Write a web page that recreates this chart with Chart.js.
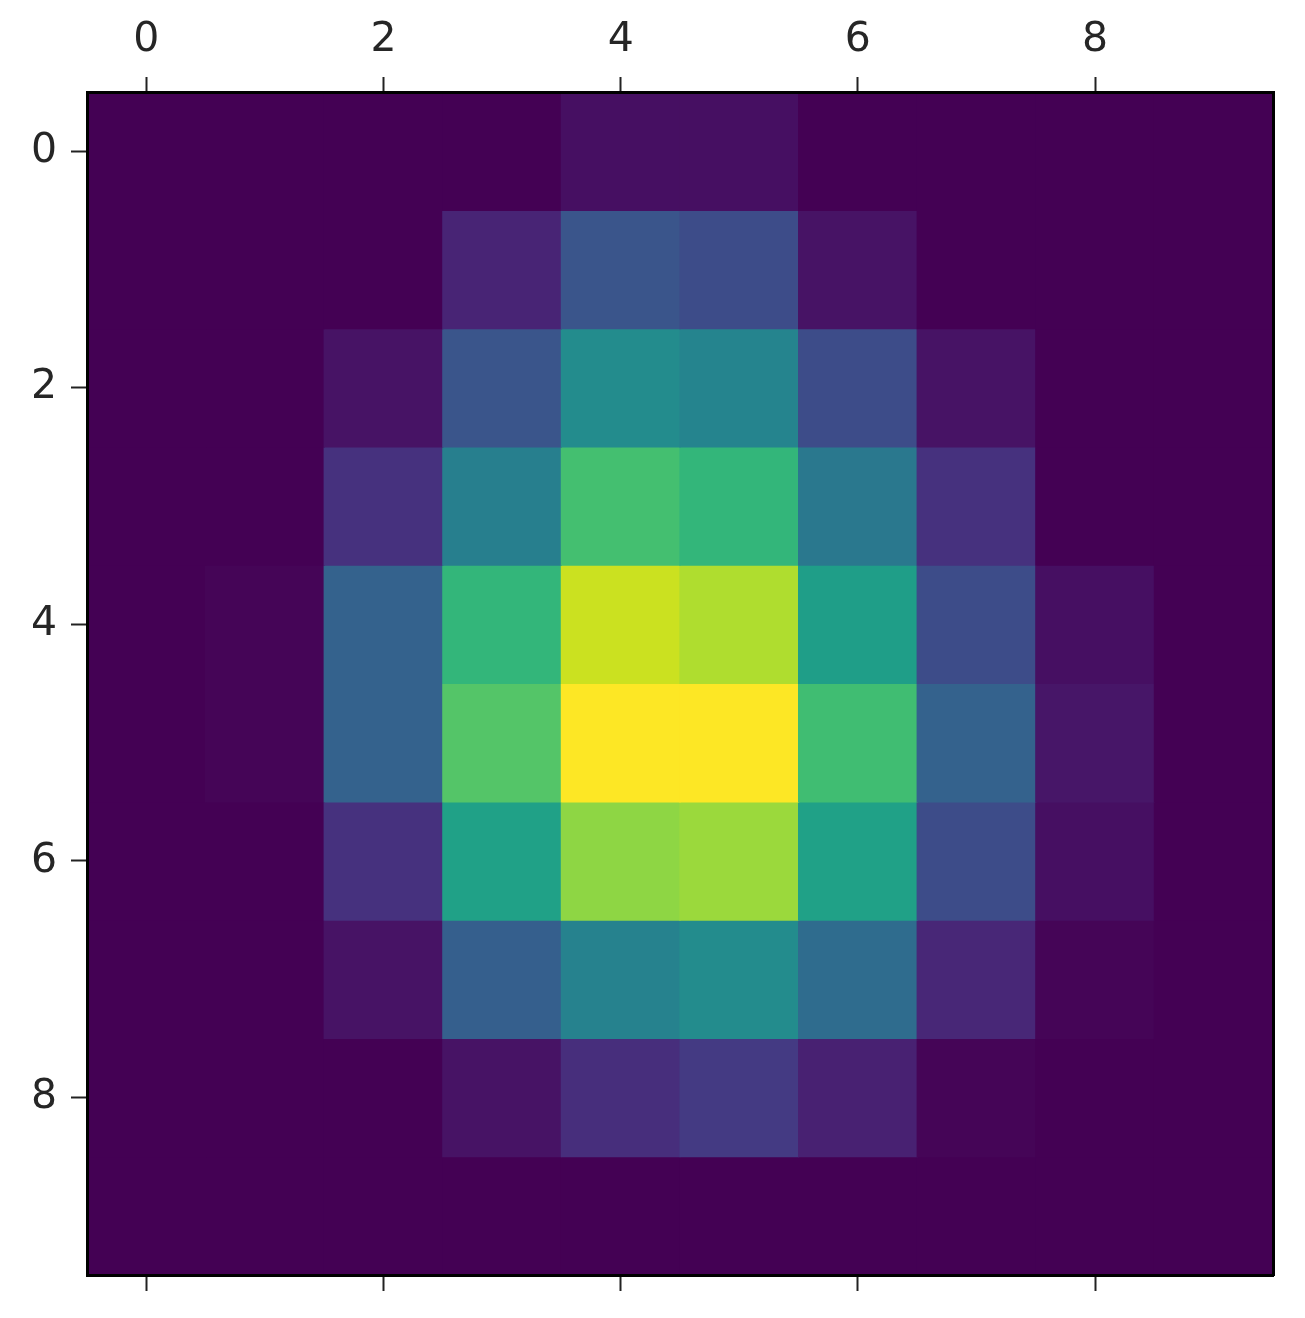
<!DOCTYPE html>
<html>
<head>
<meta charset="utf-8">
<script src="https://cdn.jsdelivr.net/npm/chart.js@4"></script>
<style>
  html, body { margin: 0; padding: 0; background: #fff; }
  #wrap { width: 1305px; height: 1318px; position: relative; }
</style>
</head>
<body>
<div id="wrap"><canvas id="heat"></canvas></div>
<script>
// grid positions and tick labels
const cols = [0, 1, 2, 3, 4, 5, 6, 7, 8, 9];
const rows = [0, 1, 2, 3, 4, 5, 6, 7, 8, 9];
const xTicks = [0, 2, 4, 6, 8];
const yTicks = [0, 2, 4, 6, 8];

// cell values, one array per row
const row0 = [0, 0, 0, 0, 4, 4, 0, 0, 0, 0];
const row1 = [0, 0, 0, 10, 26, 23, 5, 0, 0, 0];
const row2 = [0, 0, 5, 26, 48, 45, 23, 5, 0, 0];
const row3 = [0, 0, 14, 43, 70, 66, 40, 14, 0, 0];
const row4 = [0, 1, 31, 66, 92, 88, 56, 23, 4, 0];
const row5 = [0, 1, 31, 73, 100, 100, 69, 31, 6, 0];
const row6 = [0, 0, 14, 57, 83, 85, 57, 23, 4, 0];
const row7 = [0, 0, 5, 30, 44, 48, 35, 11, 1, 0];
const row8 = [0, 0, 0, 5, 13, 17, 9, 1, 0, 0];
const row9 = [0, 0, 0, 0, 0, 0, 0, 0, 0, 0];
const values = [row0, row1, row2, row3, row4, row5, row6, row7, row8, row9];

// viridis colour map stops
const viridis = ['#440154', '#471365', '#482475', '#463480', '#414487', '#3b528b',
  '#355f8d', '#2f6c8e', '#2a788e', '#25848e', '#21918c', '#1e9c89', '#22a884',
  '#2fb47c', '#44bf70', '#5ec962', '#7ad151', '#9bd93c', '#bddf26', '#dfe318', '#fde725'];

function hexToRgb(h) {
    return [parseInt(h.slice(1, 3), 16), parseInt(h.slice(3, 5), 16), parseInt(h.slice(5, 7), 16)];
}

function viridisColor(t) {
    t = Math.max(0, Math.min(1, t));
    const pos = t * (viridis.length - 1);
    const i = Math.min(Math.floor(pos), viridis.length - 2);
    const f = pos - i;
    const a = hexToRgb(viridis[i]);
    const b = hexToRgb(viridis[i + 1]);
    const c = a.map((v, k) => Math.round(v + (b[k] - v) * f));
    return 'rgb(' + c.join(',') + ')';
}

const vmin = Math.min(...values.flat());
const vmax = Math.max(...values.flat());

// one floating-bar dataset per row
const datasets = rows.map(r => ({
    data: cols.map(c => ({ x: c, y: [r - 0.5, r + 0.5], v: values[r][c] })),
    backgroundColor: ctx => viridisColor((ctx.raw.v - vmin) / (vmax - vmin)),
    borderWidth: 0,
    grouped: false,
    barPercentage: 1,
    categoryPercentage: 1,
    inflateAmount: 0.6
}));

const tickFont = { family: 'DejaVu Sans', size: 41 };
const tickColor = '#262626';
const spine = { display: true, color: '#000', width: 3, z: 1 };

function setTicks(list) {
    return scale => { scale.ticks = list.map(v => ({ value: v })); };
}

new Chart(document.getElementById('heat'), {
    type: 'bar',
    data: { datasets: datasets },
    options: {
        responsive: true,
        maintainAspectRatio: false,
        animation: false,
        layout: { padding: 0 },
        plugins: {
            legend: { display: false },
            tooltip: { enabled: false }
        },
        scales: {
            x: {
                type: 'linear',
                position: 'top',
                offset: false,
                min: -0.5,
                max: 9.5,
                afterBuildTicks: setTicks(xTicks),
                afterFit: s => { s.height = 92; },
                grid: { offset: false, drawOnChartArea: false, drawTicks: true, tickLength: 15, tickWidth: 2, tickColor: '#222' },
                border: spine,
                ticks: { font: tickFont, color: tickColor, padding: 12, maxRotation: 0 }
            },
            x2: {
                type: 'linear',
                position: 'bottom',
                offset: false,
                min: -0.5,
                max: 9.5,
                afterBuildTicks: setTicks(xTicks),
                afterFit: s => { s.height = 43; },
                grid: { offset: false, drawOnChartArea: false, drawTicks: true, tickLength: 16, tickWidth: 2, tickColor: '#222' },
                border: spine,
                ticks: { display: false }
            },
            y: {
                type: 'linear',
                position: 'left',
                reverse: true,
                min: -0.5,
                max: 9.5,
                afterBuildTicks: setTicks(yTicks),
                afterFit: s => { s.width = 87; },
                grid: { drawOnChartArea: false, drawTicks: true, tickLength: 16, tickWidth: 2, tickColor: '#222' },
                border: spine,
                ticks: { font: tickFont, color: tickColor, padding: 14 }
            },
            y2: {
                type: 'linear',
                position: 'right',
                min: -0.5,
                max: 9.5,
                afterFit: s => { s.width = 32; },
                grid: { drawOnChartArea: false, drawTicks: false },
                border: spine,
                ticks: { display: false }
            }
        }
    }
});
</script>
</body>
</html>
